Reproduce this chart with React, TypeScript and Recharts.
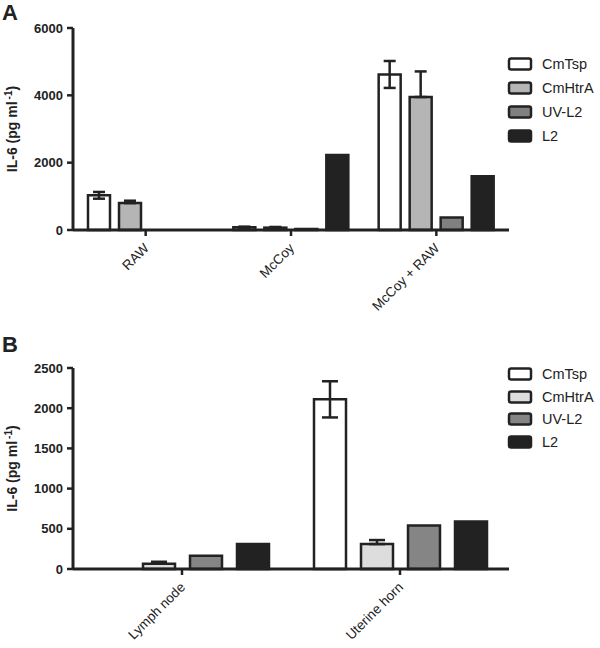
import React from "react";
import { BarChart, Bar, XAxis, YAxis, ErrorBar, Legend, Label } from "recharts";

const FONT = "'Liberation Sans', Arial, Helvetica, sans-serif";
const INK = "#222222";

const seriesNames = ["CmTsp", "CmHtrA", "UV-L2", "L2"];

// panel A: in vitro
const groupsA = ["RAW", "McCoy", "McCoy + RAW"];
const cmTspA = [1030, 80, 4620];
const cmTspErrA = [100, 20, 400];
const cmHtrAA = [800, 70, 3950];
const cmHtrAErrA = [70, 20, 760];
const uvL2A = [0, 30, 370];
const l2A = [0, 2230, 1600];
const ticksA = [0, 2000, 4000, 6000];

// panel B: in vivo
const groupsB = ["Lymph node", "Uterine horn"];
const cmTspB = [0, 2110];
const cmTspErrB = [0, 225];
const cmHtrAB = [65, 310];
const cmHtrAErrB = [25, 50];
const uvL2B = [165, 540];
const l2B = [310, 590];
const ticksB = [0, 500, 1000, 1500, 2000, 2500];

const fillsA = ["#ffffff", "#b5b5b5", "#808080", INK];
const fillsB = ["#ffffff", "#dddddd", "#858585", INK];

// open bars show the whole whisker, filled bars hide the lower half
function buildRows(groups: string[], tsp: number[], tspErr: number[], htra: number[], htraErr: number[], uv: number[], l2: number[]) {
  return groups.map((g, i) => ({
    group: g,
    CmTsp: tsp[i],
    tspErr: [tspErr[i], tspErr[i]],
    CmHtrA: htra[i],
    htraErr: [0, htraErr[i]],
    "UV-L2": uv[i],
    L2: l2[i],
  }));
}

const rowsA = buildRows(groupsA, cmTspA, cmTspErrA, cmHtrAA, cmHtrAErrA, uvL2A, l2A);
const rowsB = buildRows(groupsB, cmTspB, cmTspErrB, cmHtrAB, cmHtrAErrB, uvL2B, l2B);

const CategoryTick = ({ x, y, payload }: any) => {
  const ax = x + 4;
  const ay = y + 11;
  return (
    <text x={ax} y={ay} transform={`rotate(-45, ${ax}, ${ay})`} textAnchor="end"
      fontFamily={FONT} fontSize={13.5} fill={INK}>
      {payload.value}
    </text>
  );
};

const YTitle = ({ viewBox }: any) => {
  const cx = 17;
  const cy = viewBox.y + viewBox.height / 2;
  return (
    <text x={cx} y={cy} transform={`rotate(-90, ${cx}, ${cy})`} textAnchor="middle"
      fontFamily={FONT} fontSize={14} fontWeight="bold" fill={INK}>
      IL-6 (pg ml
      <tspan dx={2} dy={-5} fontSize={10}>-1</tspan>
      <tspan dy={5}>)</tspan>
    </text>
  );
};

const makeLegend = (rowHeight: number) => ({ payload }: any) => {
  const items = [...(payload || [])].sort(
    (a: any, b: any) => seriesNames.indexOf(a.value) - seriesNames.indexOf(b.value)
  );
  return (
    <div style={{ fontFamily: FONT, fontSize: 14.5, color: INK }}>
      {items.map((p: any) => (
        <div key={p.value} style={{ display: "flex", alignItems: "center", height: rowHeight }}>
          <svg width={26} height={16}>
            <rect x={2} y={2.5} width={22} height={11} rx={2} fill={p.color} stroke={INK} strokeWidth={2.5} />
          </svg>
          <span style={{ marginLeft: 9 }}>{p.value}</span>
        </div>
      ))}
    </div>
  );
};

function Panel({ rows, fills, ticks, max, height, top, plotHeight, barSize, barGap, capWidth, legendTop, rowHeight }: any) {
  return (
    <BarChart width={600} height={height} data={rows} barSize={barSize} barGap={barGap}
      margin={{ top, right: 91, bottom: 0, left: 0 }}>
      <XAxis dataKey="group" height={height - top - plotHeight} interval={0}
        tick={<CategoryTick />} tickSize={6}
        axisLine={{ stroke: INK, strokeWidth: 3 }} tickLine={{ stroke: INK, strokeWidth: 2.5 }} />
      <YAxis domain={[0, max]} ticks={ticks} width={73} interval={0} tickSize={6} tickMargin={4}
        tick={{ fontFamily: FONT, fontSize: 13, fontWeight: "bold", fill: INK }}
        axisLine={{ stroke: INK, strokeWidth: 3 }} tickLine={{ stroke: INK, strokeWidth: 2.5 }}>
        <Label content={<YTitle />} />
      </YAxis>
      <Legend layout="vertical" align="center" verticalAlign="middle"
        wrapperStyle={{ left: 507, top: legendTop }} content={makeLegend(rowHeight)} />
      <Bar dataKey="CmTsp" fill={fills[0]} stroke={INK} strokeWidth={2.5} isAnimationActive={false}>
        <ErrorBar dataKey="tspErr" width={capWidth} stroke={INK} strokeWidth={2.5} direction="y" isAnimationActive={false} />
      </Bar>
      <Bar dataKey="CmHtrA" fill={fills[1]} stroke={INK} strokeWidth={2.5} isAnimationActive={false}>
        <ErrorBar dataKey="htraErr" width={capWidth} stroke={INK} strokeWidth={2.5} direction="y" isAnimationActive={false} />
      </Bar>
      <Bar dataKey="UV-L2" fill={fills[2]} stroke={INK} strokeWidth={2.5} isAnimationActive={false} />
      <Bar dataKey="L2" fill={fills[3]} stroke={INK} strokeWidth={2.5} isAnimationActive={false} />
    </BarChart>
  );
}

export default function App() {
  const letter: React.CSSProperties = {
    position: "absolute", left: 2, fontFamily: FONT, fontSize: 22, fontWeight: "bold", color: INK, lineHeight: 1,
  };
  return (
    <div style={{ position: "absolute", left: 0, top: 0, width: 600, height: 648, background: "#fff" }}>
      <div style={{ position: "absolute", left: 0, top: 0 }}>
        <Panel rows={rowsA} fills={fillsA} ticks={ticksA} max={6000} height={320} top={28} plotHeight={202}
          barSize={22} barGap={9} capWidth={6} legendTop={52} rowHeight={24} />
      </div>
      <div style={{ position: "absolute", left: 0, top: 330 }}>
        <Panel rows={rowsB} fills={fillsB} ticks={ticksB} max={2500} height={318} top={38} plotHeight={201}
          barSize={32} barGap={15} capWidth={8} legendTop={33} rowHeight={22.5} />
      </div>
      <div style={{ ...letter, top: 2 }}>A</div>
      <div style={{ ...letter, top: 334 }}>B</div>
    </div>
  );
}
